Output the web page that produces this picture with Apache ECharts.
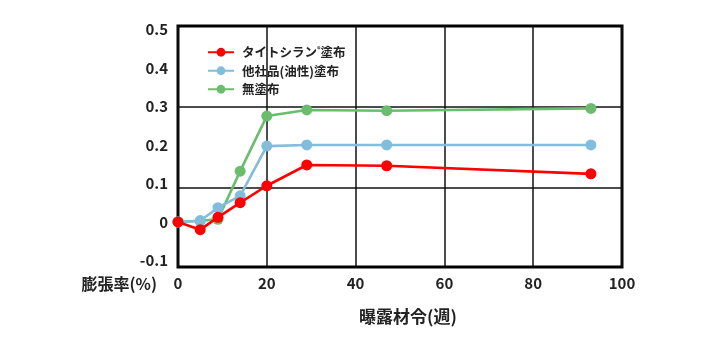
<!DOCTYPE html>
<html>
<head>
<meta charset="utf-8">
<script src="https://cdn.jsdelivr.net/npm/echarts@6/dist/echarts.min.js"></script>
<style>
  html, body { margin: 0; padding: 0; background: #fff; }
  #chart { width: 710px; height: 337px; }
</style>
</head>
<body>
<div id="chart"></div>
<script>
// Exposure age in weeks for each measurement
const weeks = [0, 5, 9, 14, 20, 29, 47, 93];

// Expansion ratio (%) per coating condition
const seriesNames = ['タイトシラン®塗布', '他社品(油性)塗布', '無塗布'];
const titeSilane = [0, -0.02, 0.012, 0.05, 0.094, 0.148, 0.146, 0.125];
const otherOily  = [0, 0.003, 0.037, 0.068, 0.197, 0.2, 0.2, 0.2];
const uncoated   = [0, 0.003, 0.007, 0.132, 0.275, 0.291, 0.289, 0.295];

// Axis tick labels
const yTicks = [-0.1, 0, 0.1, 0.2, 0.3, 0.4, 0.5];
const xAxisName = '曝露材令(週)';
const yAxisName = '膨張率(%)';

const font = '"Noto Sans CJK JP", "Noto Sans", sans-serif';
const pair = vals => weeks.map((w, i) => [w, vals[i]]);

function lineSeries(name, vals, color, z) {
  return {
    name: name,
    type: 'line',
    data: pair(vals),
    z: z,
    symbol: 'circle',
    symbolSize: 11,
    lineStyle: { color: color, width: 2.6 },
    itemStyle: { color: color },
    emphasis: { disabled: true },
    animation: false
  };
}

const chart = echarts.init(document.getElementById('chart'), null, { renderer: 'canvas' });

const green = lineSeries(seriesNames[2], uncoated, '#6bbd6e', 2);
// horizontal reference lines inside the plot frame
green.markLine = {
  silent: true,
  symbol: ['none', 'none'],
  label: { show: false },
  lineStyle: { color: '#111', width: 1.5, type: 'solid' },
  data: [{ yAxis: 0.3 }, { yAxis: 0.092 }],
  z: 1,
  animation: false
};

chart.setOption({
  animation: false,
  textStyle: { fontFamily: font },
  grid: {
    left: 178, right: 88, top: 26, bottom: 70,
    show: true,
    borderColor: '#000',
    borderWidth: 3,
    backgroundColor: 'transparent'
  },
  legend: {
    data: seriesNames,
    orient: 'vertical',
    left: 202,
    top: 41,
    itemWidth: 26,
    itemHeight: 11,
    itemGap: 6,
    textStyle: {
      fontFamily: font,
      fontSize: 12.5,
      fontWeight: 'bold',
      color: '#222',
      padding: [0, 0, 0, 3],
      rich: {
        sup: { fontSize: 7, fontWeight: 'bold', verticalAlign: 'top', color: '#222', padding: [0, 0, 5, 0] }
      }
    },
    formatter: name => name.replace('®', '{sup|®}')
  },
  xAxis: {
    type: 'value',
    min: 0,
    max: 100,
    interval: 20,
    name: xAxisName,
    nameLocation: 'middle',
    nameGap: 41,
    nameTextStyle: { fontFamily: font, fontSize: 17, fontWeight: 'bold', color: '#222', padding: [0, 0, 0, 16] },
    axisLine: { show: false },
    axisTick: { show: false },
    axisLabel: { fontFamily: font, fontSize: 15, fontWeight: 'bold', color: '#222', margin: 9 },
    splitLine: { show: true, lineStyle: { color: '#111', width: 1.5 } }
  },
  yAxis: {
    type: 'value',
    min: -0.117,
    max: 0.509,
    name: yAxisName,
    nameLocation: 'start',
    nameGap: 17,
    nameTextStyle: {
      fontFamily: font, fontSize: 16, fontWeight: 'bold', color: '#222',
      align: 'right', verticalAlign: 'middle', padding: [0, 21, 0, 0]
    },
    axisLine: { show: false },
    axisTick: { show: false },
    splitLine: { show: false },
    axisLabel: {
      customValues: yTicks,
      formatter: v => String(v),
      fontFamily: font, fontSize: 15, fontWeight: 'bold', color: '#222', margin: 10
    }
  },
  series: [
    green,
    lineSeries(seriesNames[1], otherOily, '#82bddb', 3),
    lineSeries(seriesNames[0], titeSilane, '#ff0000', 4)
  ]
});
</script>
</body>
</html>
